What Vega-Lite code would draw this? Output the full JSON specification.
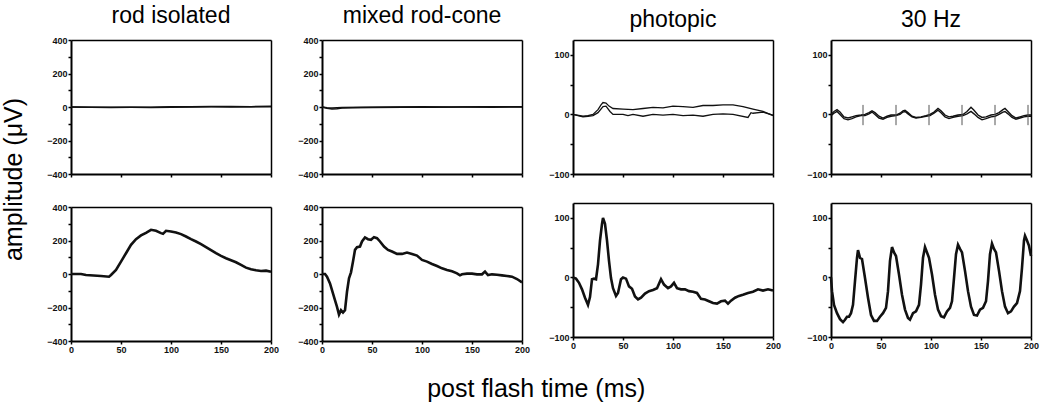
{
  "$schema": "https://vega.github.io/schema/vega-lite/v6.json",
  "padding": {"left": 2, "top": 5, "right": 5, "bottom": 5},
  "background": "white",
  "config": {
    "font": "Liberation Sans",
    "view": {"stroke": null},
    "axis": {"domainColor": "black", "domainWidth": 2, "tickColor": "black", "tickWidth": 1.5, "tickSize": 3, "labelFont": "Liberation Sans", "labelFontSize": 9, "labelFontWeight": "bold", "labelColor": "#111", "labelPadding": 1, "grid": false, "labelFlush": false, "labelOverlap": false, "title": null},
    "axisX": {"values": [0, 25, 50, 75, 100, 125, 150, 175, 200], "labelExpr": "datum.value % 50 == 0 ? datum.label : ''"},
    "axisTop": {"labels": false, "ticks": false, "domainWidth": 1.5, "minExtent": 0, "maxExtent": 0},
    "axisRight": {"labels": false, "ticks": false, "domainWidth": 1.5, "minExtent": 0, "maxExtent": 0},
    "title": {"font": "Liberation Sans", "fontSize": 23, "fontWeight": "normal", "color": "black", "offset": 8},
    "concat": {"spacing": 15}
  },
  "datasets": {
    "rodTop": [
      {"s": "a", "t": 0, "v": 0}, {"s": "a", "t": 20, "v": -2}, {"s": "a", "t": 40, "v": -3}, {"s": "a", "t": 60, "v": -2}, {"s": "a", "t": 80, "v": -1}, {"s": "a", "t": 100, "v": 1}, {"s": "a", "t": 120, "v": 2}, {"s": "a", "t": 140, "v": 3}, {"s": "a", "t": 160, "v": 3}, {"s": "a", "t": 180, "v": 2}, {"s": "a", "t": 200, "v": 4},
      {"s": "b", "t": 0, "v": 0}, {"s": "b", "t": 20, "v": -1}, {"s": "b", "t": 40, "v": -2}, {"s": "b", "t": 60, "v": -2}, {"s": "b", "t": 80, "v": -3}, {"s": "b", "t": 100, "v": -1}, {"s": "b", "t": 120, "v": 0}, {"s": "b", "t": 140, "v": 1}, {"s": "b", "t": 160, "v": 0}, {"s": "b", "t": 180, "v": 1}, {"s": "b", "t": 200, "v": 2}
    ],
    "rodBot": [
      {"t": 0, "v": 0}, {"t": 10, "v": 0}, {"t": 15, "v": -6}, {"t": 30, "v": -12}, {"t": 38, "v": -16}, {"t": 40, "v": -6}, {"t": 45, "v": 24}, {"t": 50, "v": 74}, {"t": 55, "v": 124}, {"t": 60, "v": 174}, {"t": 65, "v": 208}, {"t": 70, "v": 230}, {"t": 75, "v": 246}, {"t": 80, "v": 264}, {"t": 85, "v": 258}, {"t": 90, "v": 244}, {"t": 92, "v": 240}, {"t": 95, "v": 258}, {"t": 100, "v": 254}, {"t": 105, "v": 248}, {"t": 110, "v": 238}, {"t": 115, "v": 224}, {"t": 120, "v": 208}, {"t": 125, "v": 194}, {"t": 130, "v": 178}, {"t": 135, "v": 160}, {"t": 140, "v": 142}, {"t": 145, "v": 124}, {"t": 150, "v": 108}, {"t": 155, "v": 94}, {"t": 160, "v": 82}, {"t": 165, "v": 70}, {"t": 170, "v": 54}, {"t": 175, "v": 38}, {"t": 180, "v": 28}, {"t": 185, "v": 22}, {"t": 190, "v": 18}, {"t": 195, "v": 20}, {"t": 200, "v": 14}
    ],
    "mixTop": [
      {"s": "a", "t": 0, "v": 0}, {"s": "a", "t": 5, "v": -8}, {"s": "a", "t": 10, "v": -12}, {"s": "a", "t": 15, "v": -10}, {"s": "a", "t": 20, "v": -6}, {"s": "a", "t": 30, "v": -4}, {"s": "a", "t": 50, "v": -3}, {"s": "a", "t": 80, "v": -2}, {"s": "a", "t": 110, "v": -1}, {"s": "a", "t": 140, "v": 0}, {"s": "a", "t": 170, "v": -1}, {"s": "a", "t": 200, "v": 0},
      {"s": "b", "t": 0, "v": 0}, {"s": "b", "t": 5, "v": -4}, {"s": "b", "t": 10, "v": -6}, {"s": "b", "t": 20, "v": -3}, {"s": "b", "t": 40, "v": -1}, {"s": "b", "t": 70, "v": 0}, {"s": "b", "t": 100, "v": 1}, {"s": "b", "t": 130, "v": 0}, {"s": "b", "t": 160, "v": 1}, {"s": "b", "t": 200, "v": 1}
    ],
    "mixBot": [
      {"t": 0, "v": 0}, {"t": 3, "v": 0}, {"t": 5, "v": -16}, {"t": 8, "v": -56}, {"t": 10, "v": -96}, {"t": 12, "v": -136}, {"t": 15, "v": -196}, {"t": 17, "v": -242}, {"t": 19, "v": -216}, {"t": 21, "v": -230}, {"t": 23, "v": -216}, {"t": 25, "v": -106}, {"t": 27, "v": -26}, {"t": 29, "v": 10}, {"t": 31, "v": 74}, {"t": 33, "v": 144}, {"t": 35, "v": 160}, {"t": 38, "v": 164}, {"t": 40, "v": 194}, {"t": 43, "v": 218}, {"t": 46, "v": 208}, {"t": 49, "v": 204}, {"t": 52, "v": 220}, {"t": 55, "v": 214}, {"t": 58, "v": 194}, {"t": 62, "v": 164}, {"t": 66, "v": 144}, {"t": 70, "v": 134}, {"t": 75, "v": 120}, {"t": 80, "v": 120}, {"t": 85, "v": 128}, {"t": 90, "v": 120}, {"t": 95, "v": 110}, {"t": 100, "v": 84}, {"t": 105, "v": 74}, {"t": 110, "v": 60}, {"t": 115, "v": 48}, {"t": 120, "v": 34}, {"t": 125, "v": 24}, {"t": 130, "v": 16}, {"t": 135, "v": 4}, {"t": 138, "v": -8}, {"t": 140, "v": -2}, {"t": 145, "v": 2}, {"t": 150, "v": 2}, {"t": 155, "v": -2}, {"t": 160, "v": -2}, {"t": 163, "v": 14}, {"t": 166, "v": -6}, {"t": 170, "v": -2}, {"t": 175, "v": -4}, {"t": 180, "v": -8}, {"t": 185, "v": -12}, {"t": 190, "v": -16}, {"t": 195, "v": -30}, {"t": 200, "v": -50}
    ],
    "phoTop": [
      {"s": "a", "t": 0, "v": 0}, {"s": "a", "t": 10, "v": -3}, {"s": "a", "t": 15, "v": -2}, {"s": "a", "t": 20, "v": 0}, {"s": "a", "t": 25, "v": 8}, {"s": "a", "t": 28, "v": 16}, {"s": "a", "t": 30, "v": 20}, {"s": "a", "t": 33, "v": 19}, {"s": "a", "t": 36, "v": 14}, {"s": "a", "t": 40, "v": 10}, {"s": "a", "t": 50, "v": 9}, {"s": "a", "t": 60, "v": 8}, {"s": "a", "t": 70, "v": 10}, {"s": "a", "t": 80, "v": 12}, {"s": "a", "t": 90, "v": 11}, {"s": "a", "t": 100, "v": 14}, {"s": "a", "t": 110, "v": 13}, {"s": "a", "t": 120, "v": 12}, {"s": "a", "t": 130, "v": 15}, {"s": "a", "t": 140, "v": 15}, {"s": "a", "t": 150, "v": 16}, {"s": "a", "t": 160, "v": 16}, {"s": "a", "t": 170, "v": 13}, {"s": "a", "t": 180, "v": 9}, {"s": "a", "t": 190, "v": 5}, {"s": "a", "t": 200, "v": -2},
      {"s": "b", "t": 0, "v": 0}, {"s": "b", "t": 10, "v": -4}, {"s": "b", "t": 15, "v": -3}, {"s": "b", "t": 20, "v": -2}, {"s": "b", "t": 25, "v": 3}, {"s": "b", "t": 30, "v": 13}, {"s": "b", "t": 33, "v": 14}, {"s": "b", "t": 37, "v": 5}, {"s": "b", "t": 40, "v": 0}, {"s": "b", "t": 50, "v": 0}, {"s": "b", "t": 55, "v": -2}, {"s": "b", "t": 60, "v": 0}, {"s": "b", "t": 70, "v": -3}, {"s": "b", "t": 80, "v": 0}, {"s": "b", "t": 90, "v": -1}, {"s": "b", "t": 100, "v": 0}, {"s": "b", "t": 110, "v": -2}, {"s": "b", "t": 120, "v": -1}, {"s": "b", "t": 130, "v": -3}, {"s": "b", "t": 140, "v": 0}, {"s": "b", "t": 150, "v": 1}, {"s": "b", "t": 160, "v": 0}, {"s": "b", "t": 175, "v": -5}, {"s": "b", "t": 178, "v": 3}, {"s": "b", "t": 180, "v": 2}, {"s": "b", "t": 190, "v": 4}, {"s": "b", "t": 200, "v": -1}
    ],
    "phoBot": [
      {"t": 0, "v": 0}, {"t": 3, "v": -2}, {"t": 6, "v": -9}, {"t": 9, "v": -20}, {"t": 12, "v": -34}, {"t": 15, "v": -46}, {"t": 17, "v": -33}, {"t": 19, "v": -3}, {"t": 21, "v": -2}, {"t": 23, "v": -3}, {"t": 25, "v": 22}, {"t": 27, "v": 62}, {"t": 29, "v": 90}, {"t": 30, "v": 100}, {"t": 32, "v": 90}, {"t": 34, "v": 62}, {"t": 36, "v": 28}, {"t": 38, "v": -1}, {"t": 40, "v": -18}, {"t": 43, "v": -31}, {"t": 45, "v": -26}, {"t": 48, "v": -3}, {"t": 50, "v": 0}, {"t": 53, "v": -2}, {"t": 56, "v": -15}, {"t": 59, "v": -19}, {"t": 62, "v": -32}, {"t": 65, "v": -37}, {"t": 68, "v": -34}, {"t": 72, "v": -27}, {"t": 76, "v": -23}, {"t": 80, "v": -21}, {"t": 84, "v": -18}, {"t": 88, "v": -3}, {"t": 91, "v": -12}, {"t": 95, "v": -18}, {"t": 98, "v": -15}, {"t": 101, "v": -9}, {"t": 104, "v": -18}, {"t": 108, "v": -20}, {"t": 112, "v": -20}, {"t": 116, "v": -23}, {"t": 120, "v": -24}, {"t": 124, "v": -26}, {"t": 128, "v": -36}, {"t": 132, "v": -37}, {"t": 136, "v": -40}, {"t": 140, "v": -43}, {"t": 144, "v": -44}, {"t": 148, "v": -40}, {"t": 152, "v": -39}, {"t": 155, "v": -44}, {"t": 158, "v": -39}, {"t": 162, "v": -34}, {"t": 166, "v": -31}, {"t": 170, "v": -29}, {"t": 175, "v": -26}, {"t": 180, "v": -24}, {"t": 185, "v": -20}, {"t": 190, "v": -22}, {"t": 195, "v": -20}, {"t": 200, "v": -22}
    ],
    "hzTop": [
      {"s": "a", "t": 0, "v": 0}, {"s": "a", "t": 3, "v": 5}, {"s": "a", "t": 6, "v": 8}, {"s": "a", "t": 9, "v": 4}, {"s": "a", "t": 13, "v": -4}, {"s": "a", "t": 17, "v": -6}, {"s": "a", "t": 21, "v": -4}, {"s": "a", "t": 25, "v": -2}, {"s": "a", "t": 30, "v": -1}, {"s": "a", "t": 34, "v": 0}, {"s": "a", "t": 38, "v": 3}, {"s": "a", "t": 41, "v": 6}, {"s": "a", "t": 44, "v": 3}, {"s": "a", "t": 48, "v": -3}, {"s": "a", "t": 52, "v": -6}, {"s": "a", "t": 56, "v": -3}, {"s": "a", "t": 60, "v": -1}, {"s": "a", "t": 65, "v": -1}, {"s": "a", "t": 69, "v": 2}, {"s": "a", "t": 72, "v": 6}, {"s": "a", "t": 74, "v": 7}, {"s": "a", "t": 77, "v": 3}, {"s": "a", "t": 81, "v": -3}, {"s": "a", "t": 85, "v": -5}, {"s": "a", "t": 90, "v": -4}, {"s": "a", "t": 95, "v": -2}, {"s": "a", "t": 99, "v": 0}, {"s": "a", "t": 103, "v": 4}, {"s": "a", "t": 107, "v": 10}, {"s": "a", "t": 110, "v": 6}, {"s": "a", "t": 114, "v": -1}, {"s": "a", "t": 118, "v": -4}, {"s": "a", "t": 122, "v": -3}, {"s": "a", "t": 127, "v": -1}, {"s": "a", "t": 132, "v": 0}, {"s": "a", "t": 136, "v": 5}, {"s": "a", "t": 140, "v": 12}, {"s": "a", "t": 143, "v": 7}, {"s": "a", "t": 147, "v": -1}, {"s": "a", "t": 151, "v": -5}, {"s": "a", "t": 155, "v": -4}, {"s": "a", "t": 160, "v": -1}, {"s": "a", "t": 164, "v": 0}, {"s": "a", "t": 168, "v": 3}, {"s": "a", "t": 172, "v": 8}, {"s": "a", "t": 174, "v": 10}, {"s": "a", "t": 177, "v": 5}, {"s": "a", "t": 181, "v": -2}, {"s": "a", "t": 185, "v": -6}, {"s": "a", "t": 189, "v": -4}, {"s": "a", "t": 193, "v": -2}, {"s": "a", "t": 197, "v": -1}, {"s": "a", "t": 200, "v": -1},
      {"s": "b", "t": 0, "v": -2}, {"s": "b", "t": 3, "v": 2}, {"s": "b", "t": 6, "v": 5}, {"s": "b", "t": 9, "v": 0}, {"s": "b", "t": 13, "v": -7}, {"s": "b", "t": 17, "v": -9}, {"s": "b", "t": 21, "v": -7}, {"s": "b", "t": 25, "v": -4}, {"s": "b", "t": 30, "v": -2}, {"s": "b", "t": 34, "v": -2}, {"s": "b", "t": 38, "v": 1}, {"s": "b", "t": 41, "v": 4}, {"s": "b", "t": 44, "v": 0}, {"s": "b", "t": 48, "v": -6}, {"s": "b", "t": 52, "v": -8}, {"s": "b", "t": 56, "v": -5}, {"s": "b", "t": 60, "v": -3}, {"s": "b", "t": 65, "v": -2}, {"s": "b", "t": 69, "v": 0}, {"s": "b", "t": 72, "v": 4}, {"s": "b", "t": 74, "v": 5}, {"s": "b", "t": 77, "v": 1}, {"s": "b", "t": 81, "v": -4}, {"s": "b", "t": 85, "v": -6}, {"s": "b", "t": 90, "v": -5}, {"s": "b", "t": 95, "v": -3}, {"s": "b", "t": 99, "v": -2}, {"s": "b", "t": 103, "v": 2}, {"s": "b", "t": 107, "v": 7}, {"s": "b", "t": 110, "v": 3}, {"s": "b", "t": 114, "v": -4}, {"s": "b", "t": 118, "v": -7}, {"s": "b", "t": 122, "v": -5}, {"s": "b", "t": 127, "v": -3}, {"s": "b", "t": 132, "v": -2}, {"s": "b", "t": 136, "v": 1}, {"s": "b", "t": 140, "v": 5}, {"s": "b", "t": 143, "v": 1}, {"s": "b", "t": 147, "v": -5}, {"s": "b", "t": 151, "v": -9}, {"s": "b", "t": 155, "v": -7}, {"s": "b", "t": 160, "v": -4}, {"s": "b", "t": 164, "v": -3}, {"s": "b", "t": 168, "v": 0}, {"s": "b", "t": 172, "v": 4}, {"s": "b", "t": 174, "v": 5}, {"s": "b", "t": 177, "v": 1}, {"s": "b", "t": 181, "v": -5}, {"s": "b", "t": 185, "v": -8}, {"s": "b", "t": 189, "v": -6}, {"s": "b", "t": 193, "v": -4}, {"s": "b", "t": 197, "v": -3}, {"s": "b", "t": 200, "v": -3}
    ],
    "hzMarks": [
      {"t": 32, "lo": -18, "hi": 16}, {"t": 65, "lo": -18, "hi": 16}, {"t": 98, "lo": -18, "hi": 16}, {"t": 131, "lo": -18, "hi": 16}, {"t": 164, "lo": -18, "hi": 16}, {"t": 197, "lo": -18, "hi": 16}
    ],
    "hzBot": [
      {"t": 0, "v": 0}, {"t": 1, "v": -23}, {"t": 3, "v": -46}, {"t": 6, "v": -60}, {"t": 9, "v": -70}, {"t": 12, "v": -75}, {"t": 14, "v": -71}, {"t": 16, "v": -66}, {"t": 18, "v": -66}, {"t": 20, "v": -60}, {"t": 22, "v": -46}, {"t": 24, "v": -6}, {"t": 26, "v": 33}, {"t": 27, "v": 46}, {"t": 29, "v": 33}, {"t": 31, "v": 31}, {"t": 34, "v": -1}, {"t": 37, "v": -34}, {"t": 40, "v": -63}, {"t": 43, "v": -73}, {"t": 46, "v": -73}, {"t": 49, "v": -66}, {"t": 52, "v": -60}, {"t": 55, "v": -51}, {"t": 57, "v": -23}, {"t": 59, "v": 28}, {"t": 61, "v": 51}, {"t": 63, "v": 42}, {"t": 65, "v": 36}, {"t": 68, "v": 5}, {"t": 71, "v": -29}, {"t": 74, "v": -54}, {"t": 77, "v": -68}, {"t": 79, "v": -71}, {"t": 82, "v": -60}, {"t": 85, "v": -57}, {"t": 88, "v": -46}, {"t": 90, "v": -12}, {"t": 92, "v": 33}, {"t": 94, "v": 51}, {"t": 96, "v": 42}, {"t": 98, "v": 33}, {"t": 101, "v": 5}, {"t": 104, "v": -29}, {"t": 107, "v": -54}, {"t": 110, "v": -65}, {"t": 113, "v": -67}, {"t": 116, "v": -57}, {"t": 119, "v": -51}, {"t": 121, "v": -40}, {"t": 123, "v": -1}, {"t": 125, "v": 39}, {"t": 127, "v": 55}, {"t": 129, "v": 48}, {"t": 131, "v": 42}, {"t": 134, "v": 11}, {"t": 137, "v": -23}, {"t": 140, "v": -49}, {"t": 143, "v": -63}, {"t": 146, "v": -64}, {"t": 149, "v": -54}, {"t": 152, "v": -51}, {"t": 155, "v": -40}, {"t": 157, "v": -6}, {"t": 159, "v": 39}, {"t": 161, "v": 57}, {"t": 163, "v": 48}, {"t": 165, "v": 42}, {"t": 168, "v": 11}, {"t": 171, "v": -23}, {"t": 174, "v": -49}, {"t": 177, "v": -60}, {"t": 180, "v": -57}, {"t": 183, "v": -49}, {"t": 186, "v": -43}, {"t": 189, "v": -23}, {"t": 191, "v": 16}, {"t": 193, "v": 62}, {"t": 194, "v": 70}, {"t": 196, "v": 62}, {"t": 198, "v": 53}, {"t": 200, "v": 36}
    ]
  },
  "title": {"text": "post flash time (ms)", "orient": "bottom", "anchor": "middle", "fontSize": 25, "fontWeight": "normal", "offset": 23, "dx": 16},
  "vconcat": [
    {
      "title": {"text": "amplitude (μV)", "orient": "left", "anchor": "middle", "fontSize": 25, "fontWeight": "normal", "offset": 16},
      "hconcat": [
        {
          "spacing": 24,
          "vconcat": [
            {"width": 200, "height": 134, "title": "rod isolated",
             "resolve": {"axis": {"x": "independent", "y": "independent"}},
             "layer": [
               {"data": {"name": "rodTop"},
                "mark": {"type": "line", "strokeWidth": 1.5, "color": "#111"},
                "encoding": {
                  "x": {"field": "t", "type": "quantitative", "scale": {"domain": [0, 200], "nice": false}, "axis": {"labels": false}},
                  "y": {"field": "v", "type": "quantitative", "scale": {"domain": [-400, 400], "nice": false}, "axis": {"values": [-400, -300, -200, -100, 0, 100, 200, 300, 400], "labelExpr": "datum.value % 200 == 0 ? datum.label : ''", "minExtent": 28, "maxExtent": 28}},
                  "detail": {"field": "s"}}},
               {"data": {"name": "rodTop"},
                "mark": {"type": "line", "opacity": 0},
                "encoding": {
                  "x": {"field": "t", "type": "quantitative", "axis": {"orient": "top"}},
                  "y": {"field": "v", "type": "quantitative", "axis": {"orient": "right"}},
                  "detail": {"field": "s"}}}
             ]},
            {"width": 200, "height": 134,
             "resolve": {"axis": {"x": "independent", "y": "independent"}},
             "layer": [
               {"data": {"name": "rodBot"},
                "mark": {"type": "line", "strokeWidth": 2.6, "color": "#111"},
                "encoding": {
                  "x": {"field": "t", "type": "quantitative", "scale": {"domain": [0, 200], "nice": false}},
                  "y": {"field": "v", "type": "quantitative", "scale": {"domain": [-400, 400], "nice": false}, "axis": {"values": [-400, -300, -200, -100, 0, 100, 200, 300, 400], "labelExpr": "datum.value % 200 == 0 ? datum.label : ''", "minExtent": 28, "maxExtent": 28}}}},
               {"data": {"name": "rodBot"},
                "mark": {"type": "line", "opacity": 0},
                "encoding": {
                  "x": {"field": "t", "type": "quantitative", "axis": {"orient": "top"}},
                  "y": {"field": "v", "type": "quantitative", "axis": {"orient": "right"}}}}
             ]}
          ]
        },
        {
          "spacing": 24,
          "vconcat": [
            {"width": 200, "height": 134, "title": "mixed rod-cone",
             "resolve": {"axis": {"x": "independent", "y": "independent"}},
             "layer": [
               {"data": {"name": "mixTop"},
                "mark": {"type": "line", "strokeWidth": 1.5, "color": "#111"},
                "encoding": {
                  "x": {"field": "t", "type": "quantitative", "scale": {"domain": [0, 200], "nice": false}, "axis": {"labels": false}},
                  "y": {"field": "v", "type": "quantitative", "scale": {"domain": [-400, 400], "nice": false}, "axis": {"values": [-400, -300, -200, -100, 0, 100, 200, 300, 400], "labelExpr": "datum.value % 200 == 0 ? datum.label : ''", "minExtent": 28, "maxExtent": 28}},
                  "detail": {"field": "s"}}},
               {"data": {"name": "mixTop"},
                "mark": {"type": "line", "opacity": 0},
                "encoding": {
                  "x": {"field": "t", "type": "quantitative", "axis": {"orient": "top"}},
                  "y": {"field": "v", "type": "quantitative", "axis": {"orient": "right"}},
                  "detail": {"field": "s"}}}
             ]},
            {"width": 200, "height": 134,
             "resolve": {"axis": {"x": "independent", "y": "independent"}},
             "layer": [
               {"data": {"name": "mixBot"},
                "mark": {"type": "line", "strokeWidth": 2.6, "color": "#111"},
                "encoding": {
                  "x": {"field": "t", "type": "quantitative", "scale": {"domain": [0, 200], "nice": false}},
                  "y": {"field": "v", "type": "quantitative", "scale": {"domain": [-400, 400], "nice": false}, "axis": {"values": [-400, -300, -200, -100, 0, 100, 200, 300, 400], "labelExpr": "datum.value % 200 == 0 ? datum.label : ''", "minExtent": 28, "maxExtent": 28}}}},
               {"data": {"name": "mixBot"},
                "mark": {"type": "line", "opacity": 0},
                "encoding": {
                  "x": {"field": "t", "type": "quantitative", "axis": {"orient": "top"}},
                  "y": {"field": "v", "type": "quantitative", "axis": {"orient": "right"}}}}
             ]}
          ]
        },
        {
          "spacing": 24,
          "vconcat": [
            {"width": 200, "height": 134, "title": "photopic",
             "resolve": {"axis": {"x": "independent", "y": "independent"}},
             "layer": [
               {"data": {"name": "phoTop"},
                "mark": {"type": "line", "strokeWidth": 1.3, "color": "#111"},
                "encoding": {
                  "x": {"field": "t", "type": "quantitative", "scale": {"domain": [0, 200], "nice": false}, "axis": {"labels": false}},
                  "y": {"field": "v", "type": "quantitative", "scale": {"domain": [-100, 125], "nice": false}, "axis": {"values": [-100, -50, 0, 50, 100], "labelExpr": "datum.value % 100 == 0 ? datum.label : ''", "minExtent": 28, "maxExtent": 28}},
                  "detail": {"field": "s"}}},
               {"data": {"name": "phoTop"},
                "mark": {"type": "line", "opacity": 0},
                "encoding": {
                  "x": {"field": "t", "type": "quantitative", "axis": {"orient": "top"}},
                  "y": {"field": "v", "type": "quantitative", "axis": {"orient": "right"}},
                  "detail": {"field": "s"}}}
             ]},
            {"width": 200, "height": 134,
             "resolve": {"axis": {"x": "independent", "y": "independent"}},
             "layer": [
               {"data": {"name": "phoBot"},
                "mark": {"type": "line", "strokeWidth": 2.6, "color": "#111"},
                "encoding": {
                  "x": {"field": "t", "type": "quantitative", "scale": {"domain": [0, 200], "nice": false}},
                  "y": {"field": "v", "type": "quantitative", "scale": {"domain": [-100, 125], "nice": false}, "axis": {"values": [-100, -50, 0, 50, 100], "labelExpr": "datum.value % 100 == 0 ? datum.label : ''", "minExtent": 28, "maxExtent": 28}}}},
               {"data": {"name": "phoBot"},
                "mark": {"type": "line", "opacity": 0},
                "encoding": {
                  "x": {"field": "t", "type": "quantitative", "axis": {"orient": "top"}},
                  "y": {"field": "v", "type": "quantitative", "axis": {"orient": "right"}}}}
             ]}
          ]
        },
        {
          "spacing": 24,
          "vconcat": [
            {"width": 200, "height": 134, "title": "30 Hz",
             "resolve": {"axis": {"x": "independent", "y": "independent"}},
             "layer": [
               {"data": {"name": "hzTop"},
                "mark": {"type": "line", "strokeWidth": 1.4, "color": "#111"},
                "encoding": {
                  "x": {"field": "t", "type": "quantitative", "scale": {"domain": [0, 200], "nice": false}, "axis": {"labels": false}},
                  "y": {"field": "v", "type": "quantitative", "scale": {"domain": [-100, 125], "nice": false}, "axis": {"values": [-100, -50, 0, 50, 100], "labelExpr": "datum.value % 100 == 0 ? datum.label : ''", "minExtent": 35, "maxExtent": 35}},
                  "detail": {"field": "s"}}},
               {"data": {"name": "hzMarks"},
                "mark": {"type": "rule", "strokeWidth": 1, "color": "#555"},
                "encoding": {
                  "x": {"field": "t", "type": "quantitative", "axis": {"orient": "top"}},
                  "y": {"field": "lo", "type": "quantitative", "axis": {"orient": "right"}},
                  "y2": {"field": "hi"}}}
             ]},
            {"width": 200, "height": 134,
             "resolve": {"axis": {"x": "independent", "y": "independent"}},
             "layer": [
               {"data": {"name": "hzBot"},
                "mark": {"type": "line", "strokeWidth": 2.6, "color": "#111"},
                "encoding": {
                  "x": {"field": "t", "type": "quantitative", "scale": {"domain": [0, 200], "nice": false}},
                  "y": {"field": "v", "type": "quantitative", "scale": {"domain": [-100, 125], "nice": false}, "axis": {"values": [-100, -50, 0, 50, 100], "labelExpr": "datum.value % 100 == 0 ? datum.label : ''", "minExtent": 35, "maxExtent": 35}}}},
               {"data": {"name": "hzBot"},
                "mark": {"type": "line", "opacity": 0},
                "encoding": {
                  "x": {"field": "t", "type": "quantitative", "axis": {"orient": "top"}},
                  "y": {"field": "v", "type": "quantitative", "axis": {"orient": "right"}}}}
             ]}
          ]
        }
      ]
    }
  ]
}
